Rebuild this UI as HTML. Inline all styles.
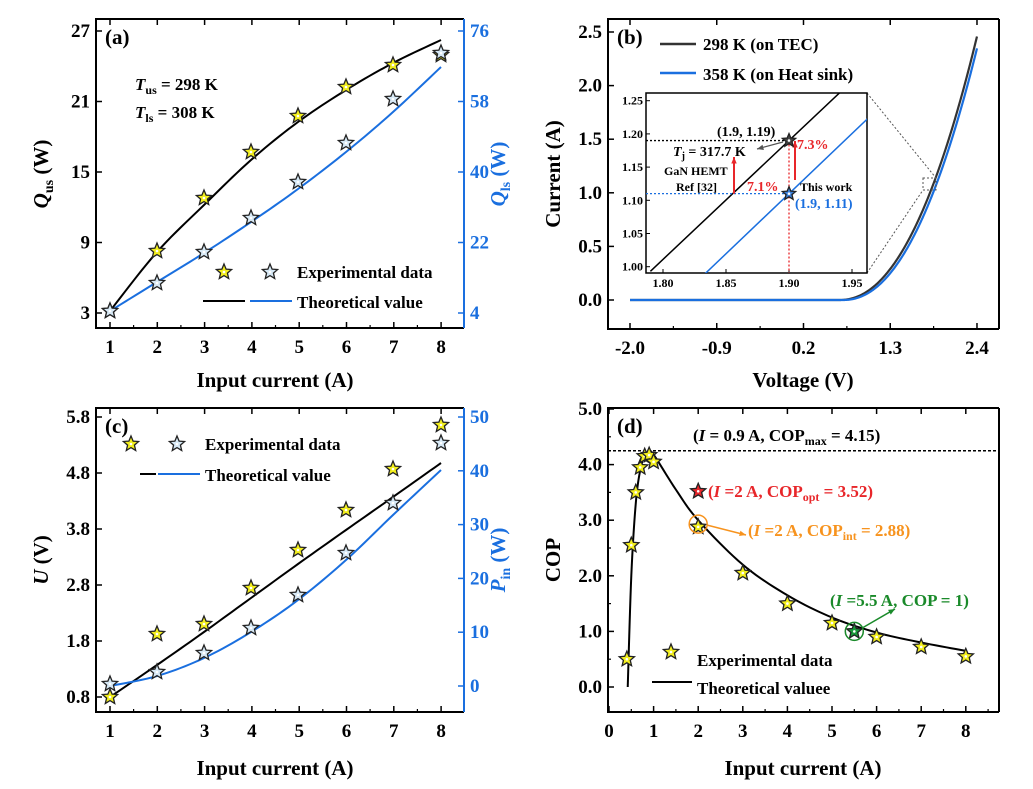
<!DOCTYPE html>
<html><head><meta charset="utf-8"><style>
body{margin:0;background:#fff}
svg{display:block;font-family:"Liberation Serif",serif;font-weight:bold}
</style></head><body>
<svg id="s" width="1033" height="789" viewBox="0 0 1033 789" xmlns="http://www.w3.org/2000/svg">
<defs>
<clipPath id="cb"><rect x="608" y="19" width="391" height="310"/></clipPath>
<clipPath id="ci"><rect x="646" y="93" width="221" height="180"/></clipPath>
</defs>
<g id="g"></g>
<g font-size="21" fill="#000">
<text x="105" y="44">(a)</text>
<text x="617" y="44">(b)</text>
<text x="105" y="433">(c)</text>
<text x="617" y="433">(d)</text>
</g>
<g font-size="17">
<text x="135" y="90"><tspan font-style="italic">T</tspan><tspan font-size="12" dy="4">us</tspan><tspan dy="-4"> = 298 K</tspan></text>
<text x="135" y="118"><tspan font-style="italic">T</tspan><tspan font-size="12" dy="4">ls</tspan><tspan dy="-4"> =  308 K</tspan></text>
<text x="297" y="278">Experimental data</text>
<text x="297" y="308">Theoretical value</text>
<text x="703" y="50">298 K (on TEC)</text>
<text x="703" y="80">358 K (on Heat sink)</text>
<text x="205" y="450">Experimental data</text>
<text x="205" y="481">Theoretical value</text>
<text x="697" y="666">Experimental data</text>
<text x="697" y="694">Theoretical valuee</text>
<text x="693" y="441">(<tspan font-style="italic">I</tspan> = 0.9 A, COP<tspan font-size="12" dy="4">max</tspan><tspan dy="-4"> = 4.15)</tspan></text>
<text x="708" y="497" fill="#e8262a">(<tspan font-style="italic">I</tspan> =2 A, COP<tspan font-size="12" dy="4">opt</tspan><tspan dy="-4"> = 3.52)</tspan></text>
<text x="748" y="536" fill="#f7931e">(<tspan font-style="italic">I</tspan> =2 A, COP<tspan font-size="12" dy="4">int</tspan><tspan dy="-4"> = 2.88)</tspan></text>
<text x="830" y="606" fill="#1a8a2a">(<tspan font-style="italic">I</tspan> =5.5 A, COP = 1)</text>
</g>
<g font-size="14">
<text x="717" y="136">(1.9, 1.19)</text>
<text x="673" y="156"><tspan font-style="italic">T</tspan><tspan font-size="10" dy="3">j</tspan><tspan dy="-3"> = 317.7 K</tspan></text>
<text x="664" y="175" font-size="12">GaN HEMT</text>
<text x="676" y="191" font-size="12">Ref [32]</text>
<text x="747" y="191" fill="#e8262a">7.1%</text>
<text x="797" y="149" fill="#e8262a">7.3%</text>
<text x="800" y="191" font-size="12">This work</text>
<text x="795" y="208" fill="#1a6fdf">(1.9, 1.11)</text>
</g>
<g font-size="21" text-anchor="middle">
<text x="275" y="387">Input current (A)</text>
<text x="803" y="387">Voltage (V)</text>
<text x="275" y="775">Input current (A)</text>
<text x="803" y="775">Input current (A)</text>
<text transform="translate(48,174) rotate(-90)"><tspan font-style="italic">Q</tspan><tspan font-size="14" dy="5">us</tspan><tspan dy="-5"> (W)</tspan></text>
<text transform="translate(505,174) rotate(-90)" fill="#1a6fdf"><tspan font-style="italic">Q</tspan><tspan font-size="14" dy="5">ls</tspan><tspan dy="-5"> (W)</tspan></text>
<text transform="translate(560,174) rotate(-90)">Current (A)</text>
<text transform="translate(48,560) rotate(-90)"><tspan font-style="italic">U</tspan> (V)</text>
<text transform="translate(505,560) rotate(-90)" fill="#1a6fdf"><tspan font-style="italic">P</tspan><tspan font-size="14" dy="5">in</tspan><tspan dy="-5"> (W)</tspan></text>
<text transform="translate(560,560) rotate(-90)">COP</text>
</g>
</svg>
<script>
const NS="http://www.w3.org/2000/svg",G=document.getElementById('g');
function el(t,a,p){const e=document.createElementNS(NS,t);for(const k in a)e.setAttribute(k,a[k]);(p||G).appendChild(e);return e}
function txt(x,y,s,a){const e=el('text',Object.assign({x:x,y:y,'font-size':19},a||{}));e.textContent=s;return e}
function pl(pts,c,w,extra){return el('polyline',Object.assign({points:pts.map(p=>p.join(',')).join(' '),fill:'none',stroke:c,'stroke-width':w||2,'stroke-linejoin':'round'},extra||{}))}
function star(x,y,fill,r){r=r||8;let p=[];for(let i=0;i<10;i++){const a=-Math.PI/2+i*Math.PI/5,rr=i%2?r*0.45:r;p.push([x+rr*Math.cos(a),y+rr*Math.sin(a)])}
el('polygon',{points:p.map(q=>q.join(',')).join(' '),fill:fill,stroke:'#222','stroke-width':1.3});el('circle',{cx:x,cy:y,r:1.3,fill:'#fff'})}
function smooth(pts,n){
let out=[];for(let i=0;i<pts.length-1;i++){const p0=pts[Math.max(0,i-1)],p1=pts[i],p2=pts[i+1],p3=pts[Math.min(pts.length-1,i+2)];
for(let t=0;t<1;t+=1/(n||10)){const t2=t*t,t3=t2*t;out.push([0,1].map(k=>0.5*((2*p1[k])+(-p0[k]+p2[k])*t+(2*p0[k]-5*p1[k]+4*p2[k]-p3[k])*t2+(-p0[k]+3*p1[k]-3*p2[k]+p3[k])*t3)))}}
out.push(pts[pts.length-1]);return out}
const B='#1a6fdf',Y='#f2ee1c',L='#d6e8f5';
function frame(x0,y0,x1,y1,rc){el('path',{d:`M${x1},${y0}H${x0}V${y1}H${x1}`,fill:'none',stroke:'#000','stroke-width':2});
el('line',{x1:x1,y1:y0,x2:x1,y2:y1,stroke:rc||'#000','stroke-width':2})}
function xt(list,y,y0,minor){list.forEach(([x,s])=>{el('line',{x1:x,y1:y,x2:x,y2:y-6,stroke:'#000','stroke-width':1.5});el('line',{x1:x,y1:y0,x2:x,y2:y0+6,stroke:'#000','stroke-width':1.5});txt(x,y+25,s,{'text-anchor':'middle'})});
(minor||[]).forEach(x=>{el('line',{x1:x,y1:y,x2:x,y2:y-3,stroke:'#000','stroke-width':1.2})})}
function yt(list,x,side,c){list.forEach(([y,s])=>{el('line',{x1:x,y1:y,x2:x+(side?-6:6),y2:y,stroke:c||'#000','stroke-width':1.5});txt(side?x+6:x-6,y+6,s,{'text-anchor':side?'start':'end',fill:c||'#000'})})}
// a
frame(96,19,464,328,B);
xt([1,2,3,4,5,6,7,8].map(i=>[110+(i-1)*47.3,String(i)]),328,19,[1,2,3,4,5,6,7].map(i=>133.6+(i-1)*47.3));
yt([27,21,15,9,3].map(v=>[313-(v-3)/6*70.5,String(v)]),96,0);
yt([76,58,40,22,4].map(v=>[313-(v-4)/18*70.5,String(v)]),464,1,B);
pl(smooth([[110,311],[157,252],[204,205],[251,160],[298,122],[346,90],[393,63],[441,40]]),'#000',2);
pl(smooth([[110,311],[157,282],[204,253],[251,222],[298,189],[346,152],[393,112],[441,67]]),B,2);
[[110,311],[157,251],[204,198],[251,152],[298,116],[346,87],[393,65],[441,55]].forEach(p=>star(p[0],p[1],Y));
[[110,311],[157,283],[204,252],[251,218],[298,182],[346,143],[393,99],[441,53]].forEach(p=>star(p[0],p[1],L));
star(224,272,Y);star(270,272,L);
el('line',{x1:203,y1:301,x2:245,y2:301,stroke:'#000','stroke-width':2});el('line',{x1:250,y1:301,x2:292,y2:301,stroke:B,'stroke-width':2});
// b
frame(608,19,999,329);
const bx=v=>630+(v+2)*78.86, by=i=>300-i*107.2;
xt([[-2,'-2.0'],[-0.9,'-0.9'],[0.2,'0.2'],[1.3,'1.3'],[2.4,'2.4']].map(([v,s])=>[bx(v),s]),329,19,[-1.45,-0.35,0.75,1.85].map(bx));
yt([0,0.5,1,1.5,2,2.5].map(v=>[by(v),v.toFixed(1)]),608,0);
function iv(V,V0,k,p){return V<=V0?0:k*Math.pow(V-V0,p)}
let cb=[],cl=[];for(let V=-2;V<=2.401;V+=0.01){cb.push([bx(V),by(iv(V,0.65,0.734,2.16))]);cl.push([bx(V),by(iv(V,0.7,0.75,2.15))])}
const gb=el('g',{'clip-path':'url(#cb)'});
gb.appendChild(pl(cb,'#333',2.2));gb.appendChild(pl(cl,B,2.2));
el('line',{x1:660,y1:44,x2:696,y2:44,stroke:'#333','stroke-width':2.5});el('line',{x1:660,y1:73,x2:696,y2:73,stroke:B,'stroke-width':2.5});
el('rect',{x:923,y:178,width:13,height:12,fill:'none',stroke:'#555','stroke-width':1,'stroke-dasharray':'2,2'});
el('line',{x1:867,y1:93,x2:936,y2:178,stroke:'#555','stroke-width':1,'stroke-dasharray':'2,2'});
el('line',{x1:867,y1:273,x2:923,y2:190,stroke:'#555','stroke-width':1,'stroke-dasharray':'2,2'});
el('rect',{x:646,y:93,width:221,height:180,fill:'#fff',stroke:'#000','stroke-width':1.5});
const ix=v=>663+(v-1.8)/0.15*189, iy=i=>266.7-(i-1)/0.25*166;
const s={'font-size':12};
[[1.8,'1.80'],[1.85,'1.85'],[1.9,'1.90'],[1.95,'1.95']].forEach(([v,t])=>{el('line',{x1:ix(v),y1:273,x2:ix(v),y2:269,stroke:'#000'});txt(ix(v),287,t,s).setAttribute('text-anchor','middle')});
[1,1.05,1.1,1.15,1.2,1.25].forEach(v=>{el('line',{x1:646,y1:iy(v),x2:650,y2:iy(v),stroke:'#000'});txt(643,iy(v)+4,v.toFixed(2),s).setAttribute('text-anchor','end')});
const gi=el('g',{'clip-path':'url(#ci)'});
gi.appendChild(pl([[ix(1.79),iy(1.19-0.11*1.79)],[ix(1.96),iy(1.19+0.06*1.79)]],'#000',1.5));
gi.appendChild(pl([[ix(1.79),iy(1.11-0.11*1.81)],[ix(1.97),iy(1.11+0.07*1.81)]],B,1.5));
el('line',{x1:646,y1:iy(1.19),x2:ix(1.9),y2:iy(1.19),stroke:'#000','stroke-dasharray':'2,2','stroke-width':1.3});
el('line',{x1:646,y1:iy(1.11),x2:ix(1.9),y2:iy(1.11),stroke:B,'stroke-dasharray':'2,2','stroke-width':1.3});
el('line',{x1:ix(1.9),y1:iy(1.19),x2:ix(1.9),y2:273,stroke:'#e8262a','stroke-dasharray':'2,2','stroke-width':1.3});
function arrow(x1,y1,x2,y2,c,w){el('line',{x1:x1,y1:y1,x2:x2,y2:y2,stroke:c,'stroke-width':w||1.5});const a=Math.atan2(y2-y1,x2-x1),h=7;
el('polygon',{points:`${x2},${y2} ${x2-h*Math.cos(a-0.4)},${y2-h*Math.sin(a-0.4)} ${x2-h*Math.cos(a+0.4)},${y2-h*Math.sin(a+0.4)}`,fill:c})}
arrow(734,iy(1.11),734,157,'#e8262a',2);arrow(795,180,795,141,'#e8262a',2);
arrow(783,142,757,149,'#555',1.2);
star(ix(1.9),iy(1.19),'#444',7);star(ix(1.9),iy(1.11),'#3a7fd8',7);
// c
frame(96,408,464,712,B);
xt([1,2,3,4,5,6,7,8].map(i=>[110+(i-1)*47.3,String(i)]),712,408,[1,2,3,4,5,6,7].map(i=>133.6+(i-1)*47.3));
yt([5.8,4.8,3.8,2.8,1.8,0.8].map(v=>[697-(v-0.8)*56,v.toFixed(1)]),96,0);
yt([50,40,30,20,10,0].map(v=>[686-v*5.38,String(v)]),464,1,B);
pl(smooth([[110,697],[157,665],[204,632],[251,598],[298,564],[346,530],[393,497],[441,463]]),'#000',2);
pl(smooth([[110,686],[157,676],[204,658],[251,632],[298,600],[346,560],[393,515],[441,470]]),B,2);
[[110,697],[157,634],[204,624],[251,588],[298,550],[346,510],[393,469],[441,425]].forEach(p=>star(p[0],p[1],Y));
[[110,684],[157,672],[204,653],[251,628],[298,595],[346,553],[393,503],[441,443]].forEach(p=>star(p[0],p[1],L));
star(131,444,Y);star(177,444,L);
el('line',{x1:140,y1:474,x2:156,y2:474,stroke:'#000','stroke-width':2});el('line',{x1:158,y1:474,x2:200,y2:474,stroke:B,'stroke-width':2});
// d
frame(608,408,999,712);
const dx=v=>609+v*44.6, dy=c=>687-c*55.6;
xt([0,1,2,3,4,5,6,7,8].map(i=>[dx(i),String(i)]),712,408,[0.5,1.5,2.5,3.5,4.5,5.5,6.5,7.5,8.5].map(dx));
yt([0,1,2,3,4,5].map(v=>[dy(v),v.toFixed(1)]),608,0);
[0.5,1.5,2.5,3.5,4.5].forEach(v=>el('line',{x1:608,y1:dy(v),x2:611,y2:dy(v),stroke:'#000','stroke-width':1.2}));
el('line',{x1:608,y1:dy(4.25),x2:999,y2:dy(4.25),stroke:'#000','stroke-dasharray':'3,2','stroke-width':1.5});
pl(smooth([[0.42,0],[0.5,2.0],[0.6,3.3],[0.7,3.9],[0.8,4.15],[0.9,4.22],[1.0,4.18],[1.5,3.55],[2,3.0],[3,2.2],[4,1.65],[5,1.25],[6,0.98],[7,0.8],[8,0.65]].map(([a,b])=>[dx(a),dy(b)])),'#000',2);
[[0.4,0.5],[0.5,2.55],[0.6,3.5],[0.7,3.95],[0.8,4.15],[0.9,4.17],[1.0,4.05],[2,2.88],[3,2.05],[4,1.5],[5,1.15],[6,0.9],[7,0.72],[8,0.55]].forEach(([a,b])=>star(dx(a),dy(b),Y));
star(dx(2),dy(3.52),'#e8262a');
el('circle',{cx:dx(2),cy:dy(2.93),r:9,fill:'none',stroke:'#f7931e','stroke-width':1.5});
arrow(dx(2)+9,dy(2.93)+1,746,535,'#f7931e',1.5);
star(dx(5.5),dy(1.0),'#1a9a3a');
el('circle',{cx:dx(5.5),cy:dy(1.0),r:9,fill:'none',stroke:'#1a8a2a','stroke-width':1.5});
arrow(dx(5.5)+9,dy(1.0)-4,895,609,'#1a8a2a',1.5);
star(671,652,Y);
el('line',{x1:652,y1:682,x2:692,y2:682,stroke:'#000','stroke-width':2});
</script>
</body></html>
